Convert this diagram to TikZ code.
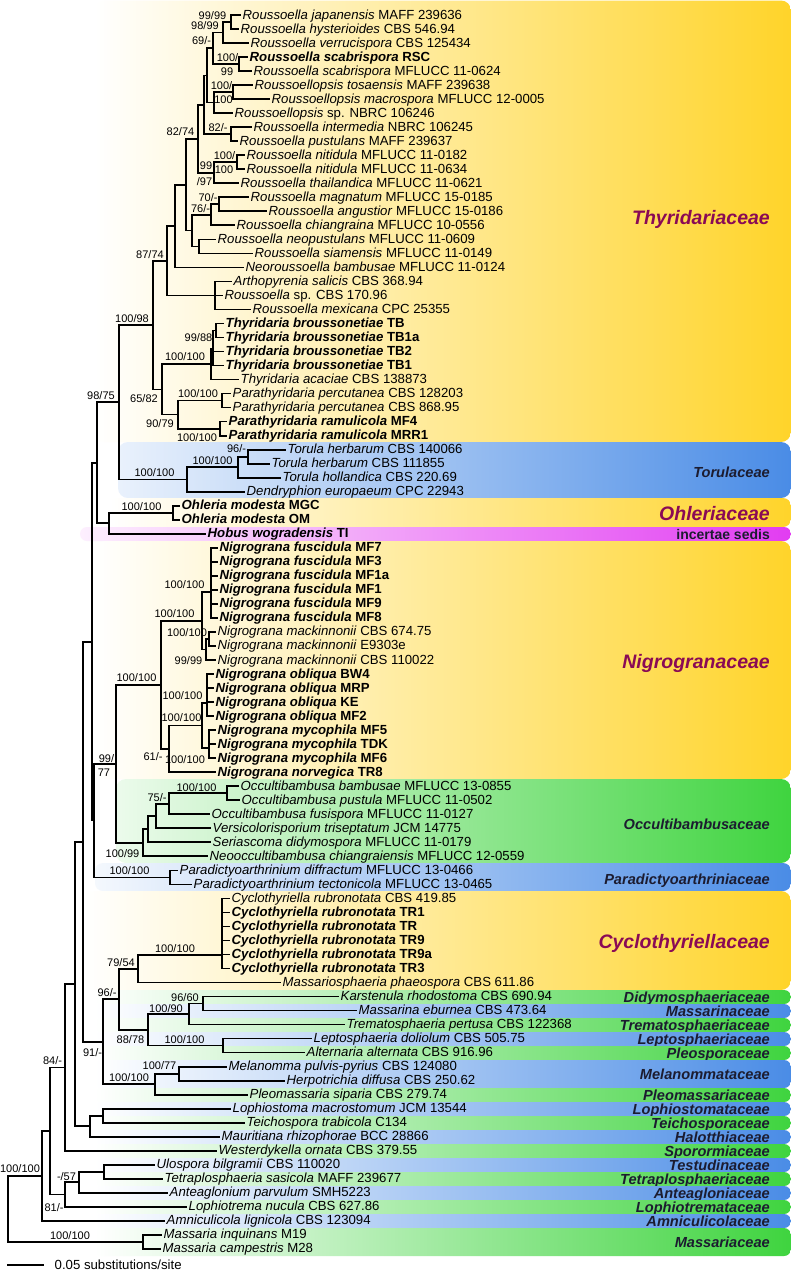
\documentclass[tikz,border=0pt]{standalone}
\usepackage{fontspec}
\setmainfont{Liberation Sans}
\usetikzlibrary{calc}
\definecolor{thyyellow}{HTML}{FFD42A}
\definecolor{torblue}{HTML}{4A8CE6}
\definecolor{occgreen}{HTML}{3FD43F}
\definecolor{incpink}{HTML}{E23CF2}
\definecolor{famred}{HTML}{8A0A55}
\definecolor{famdark}{HTML}{1C1C30}

% tip: name, row, branch end, species (italic), strain
\newcommand\leaf[5]{%
  \coordinate (#1) at (#3,{15+14.022*(#2-1)});
  \node[taxon] (#1txt) at (#1) {\textit{#4} #5};}
\newcommand\leafb[5]{%
  \coordinate (#1) at (#3,{15+14.022*(#2-1)});
  \node[taxon] (#1txt) at (#1) {\bfseries\textit{#4} #5};}
% clade: name, x, upper child, lower child
\newcommand\clade[4]{%
  \coordinate (#1mid) at ($(#3)!.5!(#4)$);
  \coordinate (#1) at (#2,0 |- #1mid);
  \draw[branch] (#1) |- (#3);
  \draw[branch] (#1) |- (#4);}
% support value: name, x, y, text
\newcommand\support[4]{\node[bslabel] (#1) at (#2,#3) {#4};}

\begin{document}
\begin{tikzpicture}[x=1pt, y=-1pt,
  branch/.style={line width=1.7pt, line cap=rect},
  taxon/.style={anchor=west, inner xsep=2.5pt, inner ysep=0pt, text height=10pt, text depth=2pt,
    font=\fontsize{13.2}{14}\selectfont},
  bslabel/.style={inner sep=0pt, text height=8pt, text depth=0pt, font=\fontsize{11}{12}\selectfont},
  fambig/.style={anchor=east, inner sep=0pt, text height=14pt, text depth=0pt, text=famred,
    font=\fontsize{19.5}{20}\selectfont\bfseries\itshape},
  famsmall/.style={anchor=east, inner sep=0pt, text height=10.5pt, text depth=0pt, text=famdark,
    font=\fontsize{14.6}{15}\selectfont\bfseries\itshape}]

  \useasboundingbox (0,0) rectangle (791,1272);
  \fill[white] (0,0) rectangle (791,1272);

  % === Family bands ===
  \shade[rounded corners=10pt, left color=white, right color=thyyellow] (95,0.5) rectangle (791,442);
  \shade[rounded corners=10pt, left color=torblue!12, right color=torblue] (118,442) rectangle (791,498);
  \shade[rounded corners=8pt, left color=white, right color=thyyellow] (110,498) rectangle (791,527);
  \shade[rounded corners=7pt, left color=incpink!8, right color=incpink] (80,527) rectangle (791,541);
  \shade[rounded corners=10pt, left color=white, right color=thyyellow] (95,541) rectangle (791,779);
  \shade[rounded corners=10pt, left color=occgreen!10, right color=occgreen] (116,779) rectangle (791,863);
  \shade[rounded corners=8pt, left color=torblue!6, right color=torblue] (95,863) rectangle (791,891);
  \shade[rounded corners=10pt, left color=white, right color=thyyellow] (85,891) rectangle (791,990);

  % small strips, green and blue in turn
  \foreach \ytop/\ybot/\fam/\col in {990/1004/Didymosphaeriaceae/occgreen, 1004/1018/Massarinaceae/torblue,
      1018/1032/Trematosphaeriaceae/occgreen, 1032/1046/Leptosphaeriaceae/torblue,
      1046/1060/Pleosporaceae/occgreen, 1060/1088/Melanommataceae/torblue,
      1088/1102/Pleomassariaceae/occgreen, 1102/1116/Lophiostomataceae/torblue,
      1116/1130/Teichosporaceae/occgreen, 1130/1144/Halotthiaceae/torblue,
      1144/1158/Sporormiaceae/occgreen, 1158/1172/Testudinaceae/torblue,
      1172/1186/Tetraplosphaeriaceae/occgreen, 1186/1200/Anteagloniaceae/torblue,
      1200/1214/Lophiotremataceae/occgreen, 1214/1228/Amniculicolaceae/torblue,
      1228/1256/Massariaceae/occgreen} {
    \shade[rounded corners=7pt, left color=white, right color=\col] (95,\ytop) rectangle (791,\ybot);
    \node[famsmall] (\fam) at (770,{(\ytop+\ybot)/2}) {\fam};
  }

  % family names on the larger bands
  \node[fambig] (thyfam) at (770,217) {Thyridariaceae};
  \node[famsmall] (torfam) at (770,472) {Torulaceae};
  \node[fambig] (ohlfam) at (770,513) {Ohleriaceae};
  \node[famsmall, font=\fontsize{14}{15}\selectfont\bfseries] (incfam) at (770,534.5) {incertae sedis};
  \node[fambig] (nigfam) at (770,661) {Nigrogranaceae};
  \node[famsmall] (occfam) at (770,824) {Occultibambusaceae};
  \node[famsmall] (parfam) at (770,879) {Paradictyoarthriniaceae};
  \node[fambig] (cycfam) at (770,941) {Cyclothyriellaceae};

  % === Tips ===
  \leaf{jap}{1}{240}{Roussoella japanensis}{MAFF 239636}
  \leaf{hys}{2}{238}{Roussoella hysterioides}{CBS 546.94}
  \leaf{ver}{3}{248}{Roussoella verrucispora}{CBS 125434}
  \leafb{scr}{4}{247}{Roussoella scabrispora}{RSC}
  \leaf{scm}{5}{251}{Roussoella scabrispora}{MFLUCC 11-0624}
  \leaf{tos}{6}{252}{Roussoellopsis tosaensis}{MAFF 239638}
  \leaf{mac}{7}{269}{Roussoellopsis macrospora}{MFLUCC 12-0005}
  \leaf{rsp}{8}{232}{Roussoellopsis}{sp. NBRC 106246}
  \leaf{int}{9}{251}{Roussoella intermedia}{NBRC 106245}
  \leaf{pus}{10}{237}{Roussoella pustulans}{MAFF 239637}
  \leaf{nia}{11}{244}{Roussoella nitidula}{MFLUCC 11-0182}
  \leaf{nib}{12}{244}{Roussoella nitidula}{MFLUCC 11-0634}
  \leaf{tha}{13}{238}{Roussoella thailandica}{MFLUCC 11-0621}
  \leaf{mag}{14}{248}{Roussoella magnatum}{MFLUCC 15-0185}
  \leaf{ang}{15}{266}{Roussoella angustior}{MFLUCC 15-0186}
  \leaf{chi}{16}{234}{Roussoella chiangraina}{MFLUCC 10-0556}
  \leaf{neo}{17}{215}{Roussoella neopustulans}{MFLUCC 11-0609}
  \leaf{sia}{18}{252}{Roussoella siamensis}{MFLUCC 11-0149}
  \leaf{nba}{19}{243}{Neoroussoella bambusae}{MFLUCC 11-0124}
  \leaf{art}{20}{231}{Arthopyrenia salicis}{CBS 368.94}
  \leaf{rsc}{21}{222}{Roussoella}{sp. CBS 170.96}
  \leaf{mex}{22}{250}{Roussoella mexicana}{CPC 25355}
  \leafb{tba}{23}{223}{Thyridaria broussonetiae}{TB}
  \leafb{tbb}{24}{223}{Thyridaria broussonetiae}{TB1a}
  \leafb{tbc}{25}{223}{Thyridaria broussonetiae}{TB2}
  \leafb{tbd}{26}{223}{Thyridaria broussonetiae}{TB1}
  \leaf{aca}{27}{238}{Thyridaria acaciae}{CBS 138873}
  \leaf{pea}{28}{230}{Parathyridaria percutanea}{CBS 128203}
  \leaf{peb}{29}{230}{Parathyridaria percutanea}{CBS 868.95}
  \leafb{raa}{30}{226}{Parathyridaria ramulicola}{MF4}
  \leafb{rab}{31}{226}{Parathyridaria ramulicola}{MRR1}
  \leaf{tor1}{32}{285}{Torula herbarum}{CBS 140066}
  \leaf{tor2}{33}{269}{Torula herbarum}{CBS 111855}
  \leaf{thol}{34}{280}{Torula hollandica}{CBS 220.69}
  \leaf{den}{35}{244}{Dendryphion europaeum}{CPC 22943}
  \leafb{oha}{36}{179}{Ohleria modesta}{MGC}
  \leafb{ohb}{37}{179}{Ohleria modesta}{OM}
  \leafb{hob}{38}{205}{Hobus wogradensis}{TI}
  \leafb{fua}{39}{217}{Nigrograna fuscidula}{MF7}
  \leafb{fub}{40}{217}{Nigrograna fuscidula}{MF3}
  \leafb{fuc}{41}{217}{Nigrograna fuscidula}{MF1a}
  \leafb{fud}{42}{217}{Nigrograna fuscidula}{MF1}
  \leafb{fue}{43}{217}{Nigrograna fuscidula}{MF9}
  \leafb{fuf}{44}{217}{Nigrograna fuscidula}{MF8}
  \leaf{mka}{45}{215}{Nigrograna mackinnonii}{CBS 674.75}
  \leaf{mkb}{46}{215}{Nigrograna mackinnonii}{E9303e}
  \leaf{mkc}{47}{215}{Nigrograna mackinnonii}{CBS 110022}
  \leafb{oba}{48}{213}{Nigrograna obliqua}{BW4}
  \leafb{obb}{49}{213}{Nigrograna obliqua}{MRP}
  \leafb{obc}{50}{213}{Nigrograna obliqua}{KE}
  \leafb{obd}{51}{213}{Nigrograna obliqua}{MF2}
  \leafb{mya}{52}{215}{Nigrograna mycophila}{MF5}
  \leafb{myb}{53}{215}{Nigrograna mycophila}{TDK}
  \leafb{myc}{54}{215}{Nigrograna mycophila}{MF6}
  \leafb{nor}{55}{215}{Nigrograna norvegica}{TR8}
  \leaf{oca}{56}{238}{Occultibambusa bambusae}{MFLUCC 13-0855}
  \leaf{ocb}{57}{239}{Occultibambusa pustula}{MFLUCC 11-0502}
  \leaf{ocf}{58}{209}{Occultibambusa fusispora}{MFLUCC 11-0127}
  \leaf{vts}{59}{210}{Versicolorisporium triseptatum}{JCM 14775}
  \leaf{ser}{60}{210}{Seriascoma didymospora}{MFLUCC 11-0179}
  \leaf{noc}{61}{207}{Neooccultibambusa chiangraiensis}{MFLUCC 12-0559}
  \leaf{pda}{62}{177}{Paradictyoarthrinium diffractum}{MFLUCC 13-0466}
  \leaf{pdb}{63}{191}{Paradictyoarthrinium tectonicola}{MFLUCC 13-0465}
  \leaf{cya}{64}{229}{Cyclothyriella rubronotata}{CBS 419.85}
  \leafb{cyb}{65}{229}{Cyclothyriella rubronotata}{TR1}
  \leafb{cyc}{66}{229}{Cyclothyriella rubronotata}{TR}
  \leafb{cyd}{67}{229}{Cyclothyriella rubronotata}{TR9}
  \leafb{cye}{68}{229}{Cyclothyriella rubronotata}{TR9a}
  \leafb{cyf}{69}{229}{Cyclothyriella rubronotata}{TR3}
  \leaf{msp}{70}{280}{Massariosphaeria phaeospora}{CBS 611.86}
  \leaf{kar}{71}{338}{Karstenula rhodostoma}{CBS 690.94}
  \leaf{mse}{72}{356}{Massarina eburnea}{CBS 473.64}
  \leaf{tre}{73}{344}{Trematosphaeria pertusa}{CBS 122368}
  \leaf{lep}{74}{311}{Leptosphaeria doliolum}{CBS 505.75}
  \leaf{alt}{75}{304}{Alternaria alternata}{CBS 916.96}
  \leaf{mel}{76}{226}{Melanomma pulvis-pyrius}{CBS 124080}
  \leaf{her}{77}{284}{Herpotrichia diffusa}{CBS 250.62}
  \leaf{ple}{78}{247}{Pleomassaria siparia}{CBS 279.74}
  \leaf{lop}{79}{230}{Lophiostoma macrostomum}{JCM 13544}
  \leaf{tei}{80}{244}{Teichospora trabicola}{C134}
  \leaf{mau}{81}{219}{Mauritiana rhizophorae}{BCC 28866}
  \leaf{wes}{82}{216}{Westerdykella ornata}{CBS 379.55}
  \leaf{ulo}{83}{154}{Ulospora bilgramii}{CBS 110020}
  \leaf{tet}{84}{162}{Tetraplosphaeria sasicola}{MAFF 239677}
  \leaf{ant}{85}{167}{Anteaglonium parvulum}{SMH5223}
  \leaf{lph}{86}{186}{Lophiotrema nucula}{CBS 627.86}
  \leaf{amn}{87}{164}{Amniculicola lignicola}{CBS 123094}
  \leaf{mai}{88}{161}{Massaria inquinans}{M19}
  \leaf{mca}{89}{160}{Massaria campestris}{M28}

  % === Thyridariaceae ===
  \clade{nJH}{231}{jap}{hys}
  \clade{n98}{223}{nJH}{ver}
  \clade{nSc}{239}{scr}{scm}
  \clade{n69}{213}{n98}{nSc}
  \clade{nTM}{233}{tos}{mac}
  \clade{nRsp}{214}{nTM}{rsp}
  \clade{n207}{207}{n69}{nRsp}
  \clade{nIP}{231}{int}{pus}
  \clade{n204}{204}{n207}{nIP}
  \clade{nNi}{237}{nia}{nib}
  \clade{n99}{214}{nNi}{tha}
  \clade{n198}{198}{n204}{n99}
  \clade{nMA}{219}{mag}{ang}
  \clade{n76}{211}{nMA}{chi}
  \clade{nNS}{199}{neo}{sia}
  \clade{n192}{192}{n76}{nNS}
  \clade{n186}{186}{n198}{n192}
  \clade{n175}{175}{n186}{nba}
  \coordinate (nArt) at (215,0 |- rsc);
  \foreach \c in {art,rsc,mex} \draw[branch] (nArt) |- (\c);
  \clade{n167}{167}{n175}{nArt}
  \clade{nTBa}{216}{tba}{tbb}
  \coordinate (nTBb) at (213,349);
  \foreach \c in {nTBa,tbc,tbd} \draw[branch] (nTBb) |- (\c);
  \clade{nThy}{211}{nTBb}{aca}
  \clade{nPe}{222}{pea}{peb}
  \clade{nRa}{220}{raa}{rab}
  \clade{nPar}{178}{nPe}{nRa}
  \clade{n162}{162}{nThy}{nPar}
  \clade{n153}{153}{n167}{n162}

  % === Torulaceae, Ohleriaceae, Hobus ===
  \clade{nTh2}{248}{tor1}{tor2}
  \clade{nTo}{238}{nTh2}{thol}
  \clade{nTor}{187}{nTo}{den}
  \clade{n119}{119}{n153}{nTor}
  \clade{nOh}{173}{oha}{ohb}
  \clade{n109}{109}{nOh}{hob}
  \clade{n97}{97}{n119}{n109}

  % === Nigrogranaceae ===
  \coordinate (nFu) at (211,592);
  \foreach \c in {fua,fub,fuc,fud,fue,fuf} \draw[branch] (nFu) |- (\c);
  \clade{nMk1}{209}{mka}{mkb}
  \clade{nMk2}{206}{nMk1}{mkc}
  \clade{n202}{202}{nFu}{nMk2}
  \coordinate (nOb) at (207,703);
  \foreach \c in {oba,obb,obc,obd} \draw[branch] (nOb) |- (\c);
  \coordinate (nMy) at (209,748);
  \foreach \c in {mya,myb,myc} \draw[branch] (nMy) |- (\c);
  \clade{n202b}{202}{nOb}{nMy}
  \clade{n169}{169}{n202b}{nor}
  \clade{n161}{161}{n202}{n169}

  % === Occultibambusaceae, Paradictyoarthriniaceae ===
  \clade{nOc1}{227}{oca}{ocb}
  \clade{nOc2}{169}{nOc1}{ocf}
  \clade{nOc3}{156}{nOc2}{vts}
  \clade{nOc4}{148}{nOc3}{ser}
  \clade{nOc5}{143}{nOc4}{noc}
  \clade{n116}{116}{n161}{nOc5}
  \clade{nPd}{170}{pda}{pdb}
  \clade{n94}{94}{n116}{nPd}
  \clade{n92}{92}{n97}{n94}

  % === Cyclothyriellaceae and the rest ===
  \coordinate (nCy) at (222,955);
  \foreach \c in {cya,cyb,cyc,cyd,cye,cyf} \draw[branch] (nCy) |- (\c);
  \clade{n138}{138}{nCy}{msp}
  \clade{nKa}{203}{kar}{mse}
  \clade{n189}{189}{nKa}{tre}
  \clade{nLe}{223}{lep}{alt}
  \clade{n148}{148}{n189}{nLe}
  \clade{n119b}{119}{n138}{n148}
  \clade{nMe}{179}{mel}{her}
  \clade{n155}{155}{nMe}{ple}
  \clade{n103}{103}{n119b}{n155}
  \clade{n83}{83}{n92}{n103}
  \clade{nLo}{103}{lop}{tei}
  \clade{n90}{90}{nLo}{mau}
  \clade{n75}{75}{n83}{n90}
  \clade{n65}{65}{n75}{wes}
  \clade{nUl}{104}{ulo}{tet}
  \clade{n79}{79}{nUl}{ant}
  \clade{n65b}{65}{n79}{lph}
  \clade{n50}{50}{n65}{n65b}
  \clade{n42}{42}{n50}{amn}
  \clade{nMs}{143}{mai}{mca}
  \clade{nRoot}{8}{n42}{nMs}

  % === Support values ===
  \support{bJH}{212.5}{15}{99/99}
  \support{b98}{205}{25}{98/99}
  \support{b69}{201.5}{40}{69/-}
  \support{bScA}{227.5}{57}{100/}
  \support{bScB}{227}{71}{99}
  \support{bTMa}{221.5}{85}{100/}
  \support{bTMb}{223.5}{99}{100}
  \support{bIP}{218}{127}{82/-}
  \support{b198}{180.5}{131}{82/74}
  \support{bNiA}{224.5}{155}{100/}
  \support{bNiB}{224}{169}{100}
  \support{b99a}{206}{165}{99}
  \support{b99b}{204.5}{181}{/97}
  \support{bMA}{208}{197}{70/-}
  \support{b76}{200.5}{208}{76/-}
  \support{b167}{150}{254}{87/74}
  \support{bTB}{198.5}{337}{99/88}
  \support{bThy}{185}{356}{100/100}
  \support{bPe}{198}{393}{100/100}
  \support{bRa}{197}{437}{100/100}
  \support{bPar}{160}{423}{90/79}
  \support{b162}{144}{398}{65/82}
  \support{b153}{132}{318}{100/98}
  \support{bTh2}{236.5}{448}{96/-}
  \support{bTo}{212.5}{460}{100/100}
  \support{bTor}{154.5}{472}{100/100}
  \support{b119}{101}{395}{98/75}
  \support{bOh}{141.5}{506}{100/100}
  \support{bFu}{184.5}{584}{100/100}
  \support{b202}{174.5}{613}{100/100}
  \support{bMk1}{187}{632}{100/100}
  \support{bMk2}{188.5}{660}{99/99}
  \support{b161}{136.5}{677}{100/100}
  \support{bOb}{182.5}{695}{100/100}
  \support{b202b}{181.5}{717}{100/100}
  \support{b169}{153}{756}{61/-}
  \support{bMy}{185}{759}{100/100}
  \support{b116a}{106.5}{758}{99/}
  \support{b116b}{104}{772}{77}
  \support{bOc1}{196.5}{787}{100/100}
  \support{bOc2}{157}{797}{75/-}
  \support{bOc5}{122.5}{853}{100/99}
  \support{bPd}{129.5}{870}{100/100}
  \support{bCy}{175}{948}{100/100}
  \support{b138}{121}{962}{79/54}
  \support{b119b}{107}{992}{96/-}
  \support{bKa}{185}{997}{96/60}
  \support{b189}{166}{1008}{100/90}
  \support{b148}{130.5}{1039}{88/78}
  \support{bLe}{184.5}{1039}{100/100}
  \support{b103}{92.5}{1052}{91/-}
  \support{b65}{52.5}{1060}{84/-}
  \support{bMe}{159.5}{1065}{100/77}
  \support{b155}{129}{1077}{100/100}
  \support{b42}{20}{1168}{100/100}
  \support{b79}{66.5}{1176}{-/57}
  \support{b65b}{54}{1207}{81/-}
  \support{bMs}{70}{1235}{100/100}

  % === Scale bar ===
  \coordinate (sbA) at (8,1265);
  \coordinate (sbB) at (43,1265);
  \draw[branch] (sbA) -- (sbB);
  \node[taxon] (sbtext) at (52,1265) {0.05 substitutions/site};

\end{tikzpicture}
\end{document}
